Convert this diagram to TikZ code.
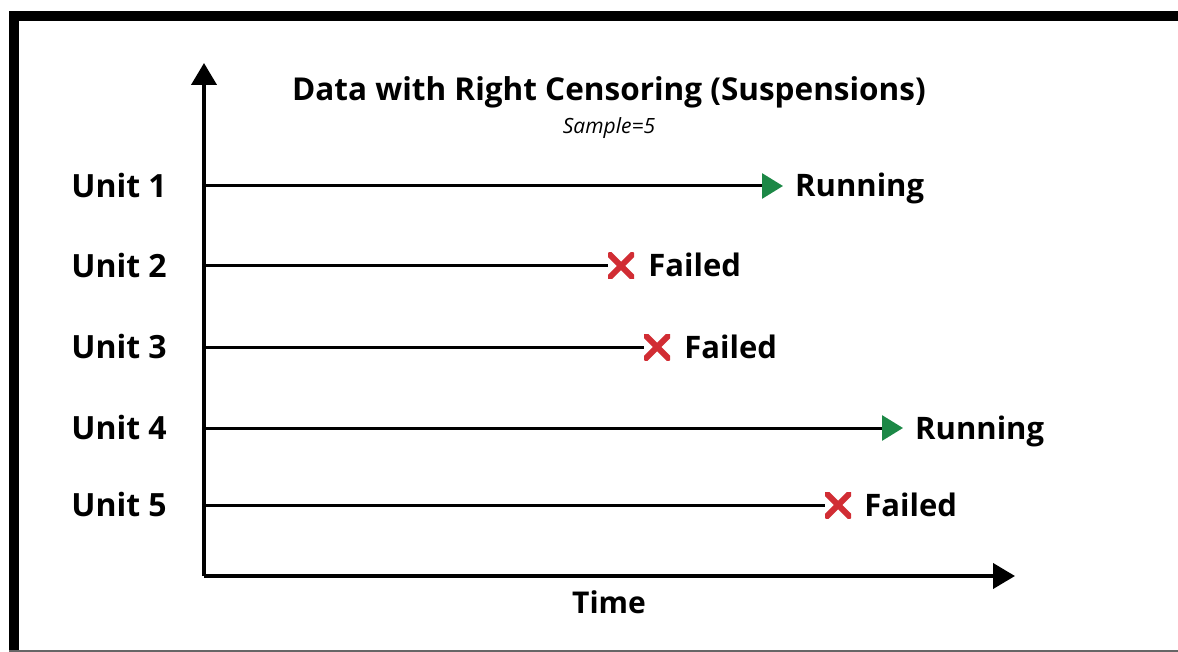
\documentclass[tikz,border=0pt]{standalone}
\usepackage{fontspec}
\setmainfont{Open Sans}
\usetikzlibrary{arrows.meta,positioning}
\definecolor{failRed}{RGB}{209,45,52}
\definecolor{runGreen}{RGB}{28,136,70}
\tikzset{
  unitlbl/.style={font=\fontsize{32}{36}\selectfont\bfseries, inner sep=0pt, text height=23pt, text depth=0pt},
  statelbl/.style={font=\fontsize{31}{35}\selectfont\bfseries, inner sep=0pt, text height=22pt, text depth=0pt, anchor=west},
  axis/.style={-{Triangle[length=22pt,width=25pt]}, line width=4pt, draw=black},
  unitline/.style={line width=3pt, draw=black},
  runline/.style={-{Triangle[length=21pt,width=25pt,color=runGreen]}, line width=3pt, draw=black},
  failx/.style={minimum width=26pt, minimum height=26pt, inner sep=0pt,
    path picture={\draw[failRed, line width=6pt]
      (path picture bounding box.north west) -- (path picture bounding box.south east)
      (path picture bounding box.north east) -- (path picture bounding box.south west);}}
}
\begin{document}
\begin{tikzpicture}[x=1pt, y=-1pt]
  \useasboundingbox (0,0) rectangle (1178,652);
  % frame
  \draw[line width=10pt, line join=miter] (14,652) -- (14,16) -- (1178,16);
  \draw[black!60, line width=1.2pt] (9,651) -- (1178,651);

  % axes
  \coordinate (o) at (204,576);
  \coordinate (ytip) at (204,63);
  \coordinate (xtip) at (1015,576);
  \draw[axis] (o) -- (ytip);
  \draw[axis] (o) -- (xtip);

  \node[font=\fontsize{31.5}{35}\selectfont\bfseries, inner sep=0pt] (title) at (609,92) {Data with Right Censoring (Suspensions)};
  \node[font=\fontsize{21}{24}\selectfont\itshape, inner sep=0pt, below=9pt of title] (sample) {Sample=5};
  \node[font=\fontsize{30}{34}\selectfont\bfseries, inner sep=0pt] (time) at (609,602) {Time};

  % units
  \coordinate (s1) at (204,186);
  \coordinate (s2) at (204,266);
  \coordinate (s3) at (204,347);
  \coordinate (s4) at (204,428);
  \coordinate (s5) at (204,505);
  \foreach \i in {1,...,5}
    \node[unitlbl, anchor=east, left=37pt of s\i] (u\i) {Unit \i};

  \coordinate (e1) at (783,186);
  \node[failx] (e2) at (621,266) {};
  \node[failx] (e3) at (657,347) {};
  \coordinate (e4) at (903,428);
  \node[failx] (e5) at (838,505) {};

  \draw[runline] (s1) -- (e1);
  \draw[unitline] (s2) -- (e2);
  \draw[unitline] (s3) -- (e3);
  \draw[runline] (s4) -- (e4);
  \draw[unitline] (s5) -- (e5);

  \node[statelbl, right=12pt of e1] (r1) {Running};
  \node[statelbl, right=14pt of e2] (f2) {Failed};
  \node[statelbl, right=14pt of e3] (f3) {Failed};
  \node[statelbl, right=12pt of e4] (r4) {Running};
  \node[statelbl, right=13pt of e5] (f5) {Failed};
\end{tikzpicture}
\end{document}
